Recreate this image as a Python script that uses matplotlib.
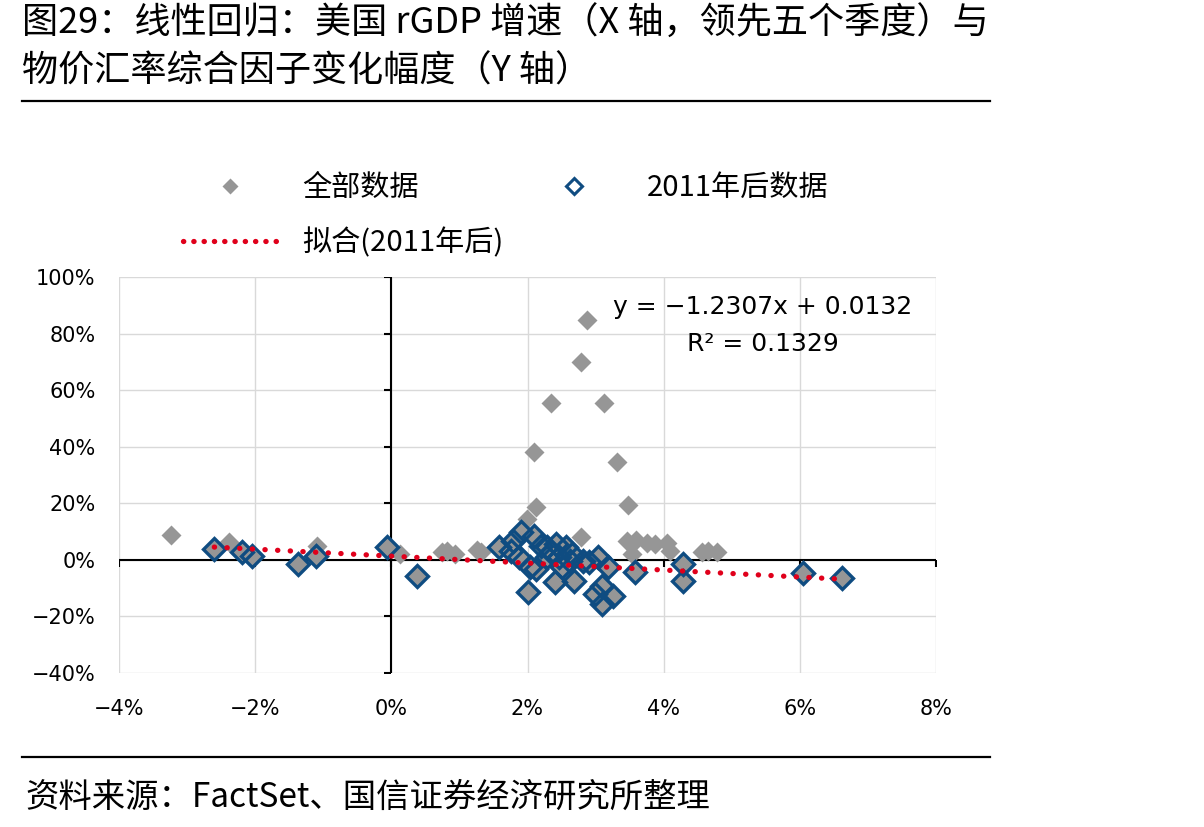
import numpy as np
import matplotlib
matplotlib.use("Agg")
import matplotlib.pyplot as plt
from matplotlib.lines import Line2D

plt.rcParams['font.family'] = ['Noto Sans CJK SC', 'DejaVu Sans']

# 数据（单位：%）
# 2011年前（仅灰色）
x_pre = [-3.24, -2.38, -1.09, 0.12, 0.75, 0.82, 0.93, 1.26, 1.32, 1.99, 2.13, 2.10,
         2.35, 2.78, 2.88, 3.13, 3.31, 3.47, 2.79, 3.46, 3.60, 3.75, 3.87, 4.05,
         4.09, 3.54, 4.57, 4.65, 4.78]
y_pre = [8.8, 6.3, 4.9, 2.1, 2.8, 3.2, 2.1, 3.5, 2.8, 14.4, 18.6, 38.3,
         55.6, 70.0, 84.8, 55.6, 34.5, 19.5, 8.1, 6.7, 6.9, 6.0, 5.6, 6.0,
         3.2, 2.1, 2.8, 3.2, 2.8]

# 2011年后
x_post = [-2.60, -2.19, -2.04, -1.37, -1.10, -0.07, 0.37,
          1.58, 1.76, 1.78, 1.91, 2.10, 1.88, 2.03, 2.13, 2.00, 2.40, 2.28,
          2.42, 2.57, 2.50, 2.69, 2.91, 3.03, 3.18, 2.99, 3.10, 3.25, 3.09,
          2.28, 2.66, 2.81, 2.47, 2.20, 2.62, 2.35,
          3.58, 4.29, 4.29, 6.05, 6.62]
y_post = [3.9, 2.8, 1.4, -1.4, 1.4, 4.6, -5.6,
          4.6, 3.2, 6.7, 9.8, 8.4, 1.1, -2.5, -3.2, -11.3, -7.7, 4.6,
          5.6, 4.6, -2.5, -7.4, -0.7, 1.1, -2.5, -12.0, -9.1, -12.7, -15.5,
          1.1, 2.1, -0.4, 1.1, 4.9, -0.4, 2.8,
          -4.4, -1.4, -7.4, -4.6, -6.3]

# 线性回归（2011年后）
slope = -1.2307
intercept = 0.0132

xticks = [-4, -2, 0, 2, 4, 6, 8]
yticks = [-40, -20, 0, 20, 40, 60, 80, 100]

gray = '#969696'
blue = '#0F4C81'
red = '#E0001B'

fig = plt.figure(figsize=(12.04, 8.27), dpi=100)
ax = fig.add_axes([119/1204, 1-673/827, (936-119)/1204, (673-277)/827])

for s in ax.spines.values():
    s.set_visible(False)
ax.set_xlim(-4, 8)
ax.set_ylim(-40, 100)
ax.set_xticks(xticks)
ax.set_yticks(yticks)
ax.set_xticklabels([f'{v}%'.replace('-', '−') for v in xticks])
ax.set_yticklabels([f'{v}%'.replace('-', '−') for v in yticks])
ax.tick_params(length=0, labelsize=15)
ax.tick_params(axis='x', pad=19)
ax.tick_params(axis='y', pad=17)
for lab in ax.get_xticklabels() + ax.get_yticklabels():
    lab.set_fontfamily('DejaVu Sans')
ax.grid(True, color='#D9D9D9', lw=1)
ax.set_axisbelow(True)

# 坐标轴（经过原点）
ax.axhline(0, color='black', lw=1.5, zorder=2)
ax.axvline(0, color='black', lw=1.5, zorder=2)
ax.plot(xticks, np.zeros(len(xticks)), ls='none', marker=3, ms=5, mew=1.5, color='black', zorder=2)
ax.plot(np.zeros(len(yticks)), yticks, ls='none', marker=0, ms=5, mew=1.5, color='black', zorder=2)

# 散点
x_all = x_pre + x_post
y_all = y_pre + y_post
ax.plot(x_all, y_all, ls='none', marker='D', ms=10, color=gray, mec='none', zorder=3)
ax.plot(x_post, y_post, ls='none', marker='D', ms=11.5, mfc='none', mec=blue, mew=2.4, zorder=4)

# 拟合线
xf = np.linspace(min(x_post), max(x_post), 50)
yf = slope * xf + intercept * 100
ax.plot(xf, yf, color=red, lw=3.8, ls=(0, (0.05, 2.35)), dash_capstyle='round', zorder=5)

ax.text(5.46, 89.5, f'y = {slope:.4f}x + {intercept:.4f}'.replace('-', '−'),
        ha='center', va='center', fontsize=18, family='DejaVu Sans', zorder=6)
ax.text(5.46, 76.2, 'R² = 0.1329', ha='center', va='center', fontsize=18,
        family='DejaVu Sans', zorder=6)

# 图例
h1 = Line2D([], [], ls='none', marker='D', ms=8, color=gray, mec='none')
h2 = Line2D([], [], color=red, lw=3.8, ls=(0, (0.05, 1.9)), dash_capstyle='round')
h3 = Line2D([], [], ls='none', marker='D', ms=8, mfc='white', mec=blue, mew=2.2)
fig.legend([h1, h2, h3], ['全部数据', '拟合(2011年后)', '2011年后数据'], ncol=2,
           loc='upper left', bbox_to_anchor=(183/1204, 1-173/827), frameon=False,
           fontsize=21, handlelength=3.2, handletextpad=0.9, columnspacing=0.8,
           labelspacing=0.85, borderpad=0, borderaxespad=0)

# 标题与来源
fig.text(22/1204, 1-24/827, '图29：线性回归：美国 rGDP 增速（X 轴，领先五个季度）与',
         fontsize=26, ha='left', va='center')
fig.text(22/1204, 1-72/827, '物价汇率综合因子变化幅度（Y 轴）',
         fontsize=26, ha='left', va='center')
fig.add_artist(Line2D([22/1204, 990/1204], [1-101/827, 1-101/827], color='black', lw=1.6))
fig.add_artist(Line2D([22/1204, 990/1204], [1-757/827, 1-757/827], color='black', lw=1.6))
fig.text(25/1204, 1-797/827, '资料来源：FactSet、国信证券经济研究所整理',
         fontsize=24, ha='left', va='center')

fig.savefig('out.png', dpi=100)
